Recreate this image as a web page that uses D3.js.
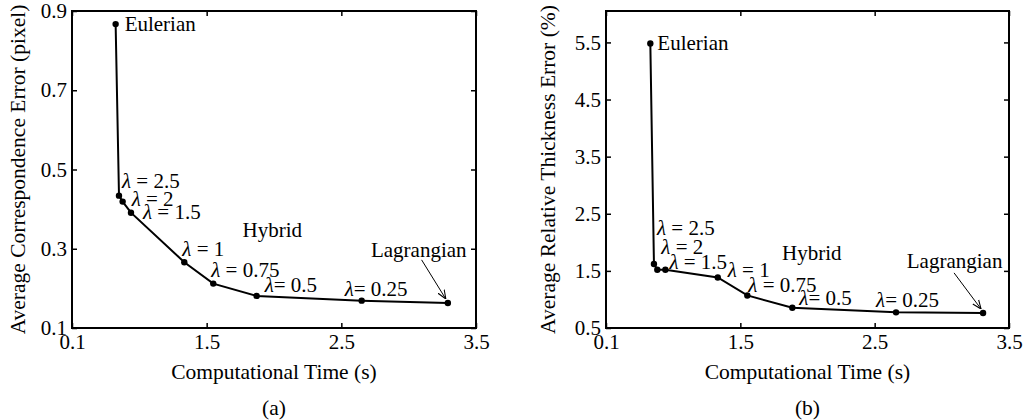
<!DOCTYPE html>
<html>
<head>
<meta charset="utf-8">
<script src="https://cdn.jsdelivr.net/npm/d3@7"></script>
<style>
  body { margin: 0; background: #fff; }
  text { font-family: "Liberation Serif", "Times New Roman", serif; fill: #000; }
</style>
</head>
<body>
<div id="chart"></div>
<script>
// data (x axis is in plot units, first tick is labelled 0.1)
var timeA  = [0.824, 0.849, 0.876, 0.938, 1.334, 1.549, 1.871, 2.651, 3.291];
var errorA = [0.867, 0.434, 0.419, 0.391, 0.266, 0.212, 0.181, 0.169, 0.163];
var timeB  = [0.830, 0.857, 0.882, 0.942, 1.332, 1.552, 1.887, 2.659, 3.307];
var errorB = [5.48, 1.62, 1.52, 1.52, 1.385, 1.07, 0.854, 0.774, 0.762];
var lambdas = ["", "2.5", "2", "1.5", "1", "0.75", "0.5", "0.25", ""];

var xTickValues = [0.5, 1.5, 2.5, 3.5];
var xTickLabels = ["0.1", "1.5", "2.5", "3.5"];
var yTicksA = [0.1, 0.3, 0.5, 0.7, 0.9];
var yTicksB = [0.5, 1.5, 2.5, 3.5, 4.5, 5.5];

var W = 1023, H = 420;
var FS = "21px", TFS = "21.5px";
var svg = d3.select("#chart").append("svg")
    .attr("width", W).attr("height", H);

// draw one panel
function drawPanel(p) {
    var x = d3.scaleLinear().domain([0.5, 3.5]).range([p.left, p.right]);
    var y = d3.scaleLinear().domain(p.yDomain).range([p.bottom, p.top]);
    var g = svg.append("g");

    // frame
    g.append("rect")
        .attr("x", p.left).attr("y", p.top)
        .attr("width", p.right - p.left).attr("height", p.bottom - p.top)
        .attr("fill", "none").attr("stroke", "#000").attr("stroke-width", 2);

    // axes, ticks inward
    var fmtX = function(d, i) { return xTickLabels[i]; };
    var ax = g.append("g").attr("transform", "translate(0," + p.bottom + ")")
        .call(d3.axisBottom(x).tickValues(xTickValues).tickFormat(fmtX).tickSizeInner(-5).tickSizeOuter(0).tickPadding(6));
    var ay = g.append("g").attr("transform", "translate(" + p.left + ",0)")
        .call(d3.axisLeft(y).tickValues(p.yTicks).tickFormat(d3.format(".1f")).tickSizeInner(-5).tickSizeOuter(0).tickPadding(5));
    var at = g.append("g").attr("transform", "translate(0," + p.top + ")")
        .call(d3.axisTop(x).tickValues(xTickValues).tickFormat("").tickSizeInner(-5).tickSizeOuter(0));
    var ar = g.append("g").attr("transform", "translate(" + p.right + ",0)")
        .call(d3.axisRight(y).tickValues(p.yTicks).tickFormat("").tickSizeInner(-5).tickSizeOuter(0));
    [ax, ay, at, ar].forEach(function(a) {
        a.select(".domain").remove();
        a.selectAll("line").attr("stroke", "#000").attr("stroke-width", 1.5);
        a.selectAll("text").style("font-size", FS).style("font-family", "Liberation Serif");
    });

    // curve
    var pts = p.xs.map(function(v, i) { return [v, p.ys[i]]; });
    g.append("path").datum(pts)
        .attr("fill", "none").attr("stroke", "#000").attr("stroke-width", 2)
        .attr("d", d3.line().x(function(d) { return x(d[0]); }).y(function(d) { return y(d[1]); }));
    g.selectAll("circle.pt").data(pts).enter().append("circle")
        .attr("cx", function(d) { return x(d[0]); })
        .attr("cy", function(d) { return y(d[1]); })
        .attr("r", 3.2).attr("fill", "#000");

    // lambda labels
    lambdas.forEach(function(l, i) {
        if (!l) return;
        var off = p.lamOff[i];
        var t = g.append("text")
            .attr("x", x(p.xs[i]) + off[0]).attr("y", y(p.ys[i]) + off[1])
            .style("font-size", FS);
        t.append("tspan").style("font-style", "italic").text("λ");
        t.append("tspan").text((off[2] ? "= " : " = ") + l);
    });

    // Eulerian
    g.append("text")
        .attr("x", x(p.xs[0]) + p.eulOff[0]).attr("y", y(p.ys[0]) + p.eulOff[1])
        .style("font-size", FS).text("Eulerian");
    // Hybrid
    g.append("text")
        .attr("x", x(p.hybrid[0])).attr("y", y(p.hybrid[1]))
        .style("font-size", FS).text("Hybrid");
    // Lagrangian + arrow
    g.append("text")
        .attr("x", x(p.lag[0])).attr("y", y(p.lag[1]))
        .style("font-size", FS).text("Lagrangian");
    var n = p.xs.length - 1;
    var x1 = x(p.arrow[0]), y1 = y(p.arrow[1]);
    var x2 = x(p.xs[n]) - 2, y2 = y(p.ys[n]) - 4;
    g.append("line")
        .attr("x1", x1).attr("y1", y1).attr("x2", x2).attr("y2", y2)
        .attr("stroke", "#000").attr("stroke-width", 1)
        .attr("marker-end", "url(#arr)");

    // axis titles
    var cx = (p.left + p.right) / 2;
    g.append("text").attr("x", cx).attr("y", 379)
        .attr("text-anchor", "middle").style("font-size", TFS)
        .text("Computational Time (s)");
    g.append("text").attr("x", cx).attr("y", 415)
        .attr("text-anchor", "middle").style("font-size", TFS)
        .text(p.tag);
    g.append("text")
        .attr("transform", "translate(" + p.yTitleX + "," + ((p.top + p.bottom) / 2) + ") rotate(-90)")
        .attr("text-anchor", "middle").style("font-size", TFS)
        .text(p.yTitle);
}

svg.append("defs").append("marker")
    .attr("id", "arr").attr("viewBox", "0 0 10 10")
    .attr("refX", 10).attr("refY", 5)
    .attr("markerWidth", 9).attr("markerHeight", 9)
    .attr("markerUnits", "userSpaceOnUse")
    .attr("orient", "auto")
    .append("path").attr("d", "M0,1 L10,5 L0,9").attr("fill", "none").attr("stroke", "#000").attr("stroke-width", 1.2);

drawPanel({
    left: 72, right: 476, top: 11, bottom: 328,
    yDomain: [0.1, 0.9], yTicks: yTicksA,
    xs: timeA, ys: errorA,
    lamOff: [null, [3, -8], [9, 4], [12, 6], [-2, -6], [-2, -7], [8, -4, 1], [-17, -5, 1], null],
    eulOff: [9, 7],
    hybrid: [1.767, 0.33],
    lag: [2.72, 0.279],
    arrow: [3.096, 0.272],
    tag: "(a)",
    yTitle: "Average Correspondence Error (pixel)",
    yTitleX: 25
});

drawPanel({
    left: 606, right: 1009, top: 11, bottom: 328,
    yDomain: [0.5, 6.05], yTicks: yTicksB,
    xs: timeB, ys: errorB,
    lamOff: [null, [3, -29], [4, -16], [4, -1], [10, 0], [1, -3], [7, -3, 1], [-20, -5, 1], null],
    eulOff: [7, 6],
    hybrid: [1.81, 1.687],
    lag: [2.739, 1.547],
    arrow: [3.091, 1.465],
    tag: "(b)",
    yTitle: "Average Relative Thickness Error (%)",
    yTitleX: 555
});
</script>
</body>
</html>
